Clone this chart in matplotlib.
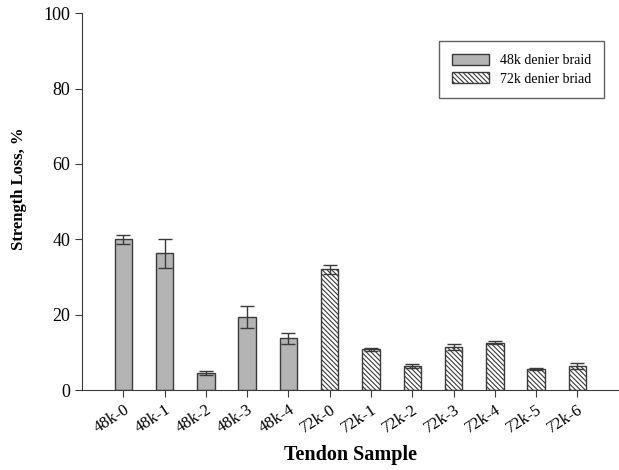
import numpy as np
import matplotlib
matplotlib.use("Agg")
import matplotlib.pyplot as plt

plt.rcParams['font.family'] = ['Liberation Serif', 'DejaVu Serif']
plt.rcParams['hatch.color'] = '#505050'
plt.rcParams['hatch.linewidth'] = 0.8

# data
labels_48 = ['48k-0', '48k-1', '48k-2', '48k-3', '48k-4']
loss_48 = [40.0, 36.3, 4.6, 19.4, 13.7]
err_48 = [1.2, 3.8, 0.5, 2.8, 1.4]

labels_72 = ['72k-0', '72k-1', '72k-2', '72k-3', '72k-4', '72k-5', '72k-6']
loss_72 = [32.0, 10.8, 6.4, 11.4, 12.6, 5.6, 6.4]
err_72 = [1.3, 0.5, 0.6, 0.8, 0.3, 0.2, 0.8]

fig = plt.figure(figsize=(6.19, 4.70), dpi=100)
ax = fig.add_axes([0.1325, 0.17, 0.867, 0.802])

x48 = np.arange(len(labels_48))
x72 = np.arange(len(labels_72)) + len(labels_48)
w = 0.42

ax.bar(x48, loss_48, width=w, color='#b4b4b4', edgecolor='#3a3a3a', linewidth=1.0,
       yerr=err_48, capsize=5, error_kw=dict(ecolor='#3a3a3a', elinewidth=1.0, capthick=1.0),
       label='48k denier braid', zorder=2)
ax.bar(x72, loss_72, width=w, color='white', edgecolor='#3a3a3a', linewidth=1.0, hatch='\\' * 7,
       yerr=err_72, capsize=5, error_kw=dict(ecolor='#3a3a3a', elinewidth=1.0, capthick=1.0),
       label='72k denier briad', zorder=2)

ax.set_xlim(-1, 12)
ax.set_ylim(0, 100)
ax.set_yticks([0, 20, 40, 60, 80, 100])
ax.set_xticks(np.concatenate([x48, x72]))
ax.set_xticklabels(labels_48 + labels_72, rotation=33, ha='right', rotation_mode='anchor',
                   fontsize=12)
ax.tick_params(axis='y', labelsize=13, direction='out', length=5, color='#3a3a3a')
ax.tick_params(axis='x', direction='out', length=5, color='#3a3a3a')

for s in ['top', 'right']:
    ax.spines[s].set_visible(False)
for s in ['left', 'bottom']:
    ax.spines[s].set_color('#3a3a3a')

ax.set_xlabel('Tendon Sample', fontsize=14.5, fontweight='bold', labelpad=6)
ax.set_ylabel('Strength Loss, %', fontsize=12, fontweight='bold')
ax.yaxis.set_label_coords(-0.102, 0.533)

leg = ax.legend(loc='upper right', bbox_to_anchor=(0.9726, 0.926), borderaxespad=0,
                fontsize=10, frameon=True, fancybox=False, edgecolor='#3a3a3a',
                handlelength=2.7, handleheight=0.9, borderpad=0.9, labelspacing=0.35)
leg.get_frame().set_linewidth(1.0)

fig.savefig('out.png', dpi=100)
